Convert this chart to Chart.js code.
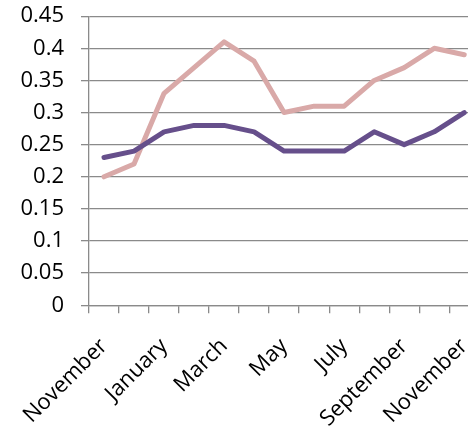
<!DOCTYPE html>
<html>
<head>
<meta charset="utf-8">
<script src="https://cdn.jsdelivr.net/npm/chart.js@4"></script>
<style>
  html, body { margin: 0; padding: 0; background: #fff; overflow: hidden; }
  #frame { position: relative; width: 468px; height: 434px; overflow: hidden; }
  #wrap { position: absolute; left: 0; top: 0; width: 500px; height: 460px; }
</style>
</head>
<body>
<div id="frame"><div id="wrap"><canvas id="chart"></canvas></div></div>
<script>
// Monthly values, November through the following November
const months = ['November', 'December', 'January', 'February', 'March', 'April', 'May',
                'June', 'July', 'August', 'September', 'October', 'November'];
const seriesA = [0.23, 0.24, 0.27, 0.28, 0.28, 0.27, 0.24, 0.24, 0.24, 0.27, 0.25, 0.27, 0.30];
const seriesB = [0.20, 0.22, 0.33, 0.37, 0.41, 0.38, 0.30, 0.31, 0.31, 0.35, 0.37, 0.40, 0.39];
const yTicks = [0, 0.05, 0.1, 0.15, 0.2, 0.25, 0.3, 0.35, 0.4, 0.45];

const FONT = { family: '"Open Sans", "Liberation Sans", sans-serif', size: 22 };
const GRID = '#8a8a8a';

// Plot area placement inside the 468x434 frame (right edge runs past the frame)
const AREA = { left: 89, top: 16, right: 479, bottom: 305 };

const chart = new Chart(document.getElementById('chart'), {
  type: 'line',
  data: {
    labels: months,
    datasets: [
      { label: 'A', data: seriesA, borderColor: '#664F8B', borderWidth: 5,
        pointRadius: 0, tension: 0, borderCapStyle: 'round', borderJoinStyle: 'round' },
      { label: 'B', data: seriesB, borderColor: '#D9A9A8', borderWidth: 5,
        pointRadius: 0, tension: 0, borderCapStyle: 'round', borderJoinStyle: 'round' }
    ]
  },
  options: {
    responsive: true,
    maintainAspectRatio: false,
    animation: false,
    layout: { padding: 0 },
    plugins: { legend: { display: false }, tooltip: { enabled: false } },
    scales: {
      x: {
        type: 'category',
        offset: true,
        grid: { offset: true, drawOnChartArea: false, drawTicks: true, tickLength: 8,
                color: GRID, lineWidth: 1.3 },
        border: { display: true, color: GRID, width: 1.3 },
        ticks: {
          autoSkip: false, minRotation: 45, maxRotation: 45, padding: 20,
          color: '#000', font: FONT,
          callback: (v, i) => (i % 2 === 0 ? months[i] : '')
        }
      },
      y: {
        min: 0, max: 0.45,
        afterBuildTicks: s => { s.ticks = yTicks.map(v => ({ value: v })); },
        grid: { color: GRID, lineWidth: 1.3, tickLength: 8, drawTicks: true },
        border: { display: true, color: GRID, width: 1.3 },
        ticks: {
          padding: 17, color: '#000', font: FONT,
          callback: v => String(+v.toFixed(2))
        },
        afterFit: s => { s.width = 89; }
      }
    }
  }
});

// Size and shift the canvas so the plot area lands at AREA
const wrap = document.getElementById('wrap');
let w = 500, h = 460;
for (let k = 0; k < 4; k++) {
  const a = chart.chartArea;
  w += (AREA.right - AREA.left) - (a.right - a.left);
  h += (AREA.bottom - AREA.top) - (a.bottom - a.top);
  wrap.style.width = Math.round(w) + 'px';
  wrap.style.height = Math.round(h) + 'px';
  chart.resize();
}
const a = chart.chartArea;
wrap.style.left = Math.round(AREA.left - a.left) + 'px';
wrap.style.top = Math.round(AREA.top - a.top) + 'px';
</script>
</body>
</html>
